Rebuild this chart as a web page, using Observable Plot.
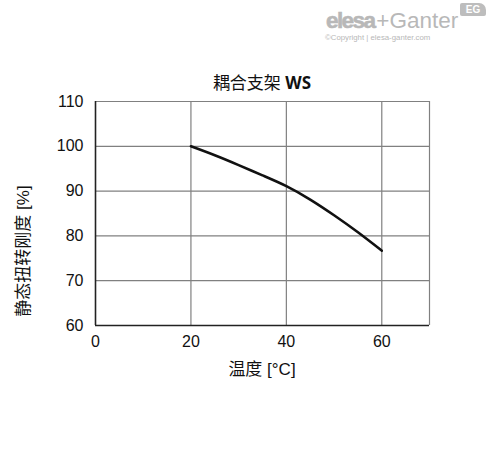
<!DOCTYPE html>
<html>
<head>
<meta charset="utf-8">
<script src="https://cdn.jsdelivr.net/npm/d3@7"></script>
<script src="https://cdn.jsdelivr.net/npm/@observablehq/plot@0.6"></script>
<style>
  html, body { margin: 0; padding: 0; background: #fff; }
  #wrap { position: relative; width: 488px; height: 454px; font-family: "Liberation Sans", "Noto Sans CJK SC", sans-serif; }
  #title { position: absolute; left: 95px; width: 334px; top: 73px; text-align: center; font-size: 17px; line-height: 20px; color: #111; font-family: "Open Sans", "Noto Sans CJK SC", sans-serif; }
  #title b { font-weight: 700; }
  #ylab { position: absolute; left: 24px; top: 251px; transform: translate(-50%, -50%) rotate(-90deg); white-space: nowrap; font-size: 17px; line-height: 20px; color: #111; font-family: "Liberation Sans", "Noto Sans CJK SC", sans-serif; }
  #xlab { position: absolute; left: 95px; width: 334px; top: 360px; text-align: center; white-space: nowrap; font-size: 17px; line-height: 20px; color: #111; font-family: "Liberation Sans", "Noto Sans CJK SC", sans-serif; }
  #logo { position: absolute; left: 326px; top: 8px; color: #b8b8b8; }
  #logo .big { font-family: "Liberation Sans", sans-serif; font-size: 22.5px; line-height: 26px; font-weight: 400; white-space: nowrap; }
  #logo .big b { font-weight: 900; letter-spacing: -1.6px; margin-right: 2px; -webkit-text-stroke: 0.6px #b8b8b8; }
  #logo .small { font-size: 7.8px; margin-left: -1px; margin-top: -1px; white-space: nowrap; }
  #eg { position: absolute; left: 460px; top: 3px; width: 26px; height: 13px; background: #bdbdbd; border-radius: 2px 7px 2px 2px; color: #fff; font-size: 10px; font-weight: 700; text-align: center; line-height: 13px; font-family: "Liberation Sans", sans-serif; }
  #chart { position: absolute; left: 0; top: 0; }
</style>
</head>
<body>
<div id="wrap">
  <div id="chart"></div>
  <div id="title">耦合支架 <b>WS</b></div>
  <div id="ylab"></div>
  <div id="xlab"></div>
  <div id="logo"><div class="big"><b>elesa</b>+Ganter</div><div class="small">©Copyright | elesa-ganter.com</div></div>
  <div id="eg">EG</div>
</div>
<script>
const temperature = [20, 25, 30, 35, 40, 45, 50, 55, 60];
const stiffness   = [100, 98.0, 95.8, 93.5, 91.1, 88.1, 84.6, 80.8, 76.7];
const xTicks = [0, 20, 40, 60];
const yTicks = [60, 70, 80, 90, 100, 110];
const xGrid = [20, 40, 60, 70];
const yGrid = [70, 80, 90, 100, 110];
const xLabel = "温度 [°C]";
const yLabel = "静态扭转刚度 [%]";

document.getElementById("ylab").textContent = yLabel;
document.getElementById("xlab").textContent = xLabel;

const data = temperature.map((t, i) => ({t, s: stiffness[i]}));

const chart = Plot.plot({
  width: 488,
  height: 454,
  marginLeft: 95,
  marginRight: 59,
  marginTop: 101,
  marginBottom: 129,
  style: {fontSize: "16px", fontFamily: "'Liberation Sans', 'Noto Sans CJK SC', sans-serif", color: "#111", background: "white"},
  x: {domain: [0, 70]},
  y: {domain: [60, 110]},
  marks: [
    Plot.ruleX(xGrid, {stroke: "#808080", strokeWidth: 1.2, strokeOpacity: 1}),
    Plot.ruleY(yGrid, {stroke: "#808080", strokeWidth: 1.2, strokeOpacity: 1}),
    Plot.axisX({ticks: xTicks, tickSize: 0, tickPadding: 10, tickFormat: d => String(d), label: null}),
    Plot.axisY({ticks: yTicks, tickSize: 0, tickPadding: 12, tickFormat: d => String(d), label: null}),
    Plot.ruleX([0], {stroke: "#222", strokeWidth: 1.6}),
    Plot.ruleY([60], {stroke: "#222", strokeWidth: 1.6}),
    Plot.line(data, {x: "t", y: "s", stroke: "#111", strokeWidth: 2.6, curve: "natural"})
  ]
});
document.getElementById("chart").appendChild(chart);
</script>
</body>
</html>
